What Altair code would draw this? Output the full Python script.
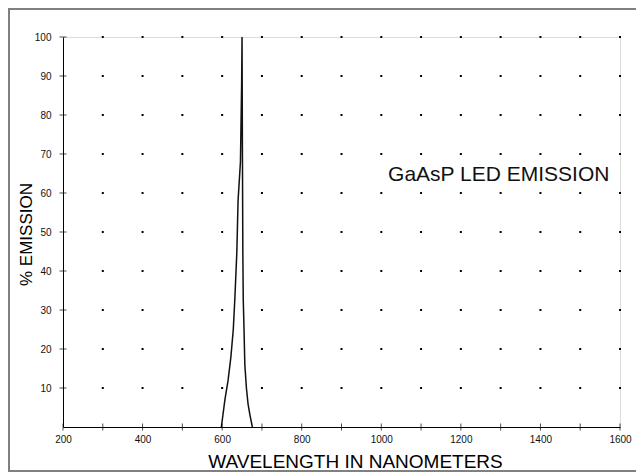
import altair as alt
import pandas as pd

# Emission curve (wavelength nm, % emission)
wavelength = [598, 607, 615, 622, 628, 632, 637, 640, 646, 649, 650,
              651, 652, 653, 655, 657, 661, 665, 670, 676]
emission = [0, 7, 12, 18, 25, 33, 45, 58, 68, 88, 100,
            70, 45, 33, 25, 16, 10, 6, 3, 0]

x_ticks = [200, 300, 400, 500, 600, 700, 800, 900, 1000, 1100, 1200, 1300, 1400, 1500, 1600]
y_ticks = [10, 20, 30, 40, 50, 60, 70, 80, 90, 100]
label_text = ["GaAsP LED EMISSION"]
label_x = [1017]
label_y = [64.6]

FONT = "Liberation Sans"
W, H = 557, 390
PB = 46

curve = pd.DataFrame({"wl": wavelength, "em": emission, "i": range(len(wavelength))})
grid = pd.DataFrame([(x, y) for x in x_ticks[1:] for y in y_ticks], columns=["x", "y"])
xt = pd.DataFrame({"x": x_ticks, "y": [0] * len(x_ticks)})
yt = pd.DataFrame({"x": [200] * len(y_ticks), "y": y_ticks})
lab = pd.DataFrame({"t": label_text, "x": label_x, "y": label_y})

xs = alt.Scale(domain=[200, 1600], nice=False, zero=False)
ys = alt.Scale(domain=[0, 100], nice=False)

xax = alt.Axis(values=x_ticks, format="d", ticks=False, grid=False, labelFont=FONT, labelFontSize=10,
               labelColor="#111", labelPadding=7, domainColor="#000", domainWidth=1,
               title="WAVELENGTH IN NANOMETERS", titleFont=FONT, titleFontSize=19,
               titleFontWeight="normal", titleColor="#000", titleX=292, titleY=40,
               titleAlign="center", titleBaseline="alphabetic", labelFlush=False)
yax = alt.Axis(values=y_ticks, ticks=False, grid=False, labelFont=FONT, labelFontSize=10,
               labelColor="#111", labelPadding=12, domainColor="#000", domainWidth=1,
               title="% EMISSION", titleFont=FONT, titleFontSize=17, titleFontWeight="normal",
               titleColor="#000", titleX=-37, titleY=197, titleAngle=270,
               titleAlign="center", titleBaseline="middle")

base_x = alt.X("x:Q", scale=xs, axis=xax)
base_y = alt.Y("y:Q", scale=ys, axis=yax)

dots = alt.Chart(grid).mark_square(size=4, color="#000", opacity=1).encode(x=base_x, y=base_y)

line = alt.Chart(curve).mark_line(color="#111", strokeWidth=1.5).encode(
    x=alt.X("wl:Q", scale=xs), y=alt.Y("em:Q", scale=ys), order="i:Q")

xtick = alt.Chart(xt).mark_tick(orient="vertical", size=7, thickness=1, color="#000").encode(
    x=alt.X("x:Q", scale=xs), y=alt.Y("y:Q", scale=ys))
ytick = alt.Chart(yt).mark_tick(orient="horizontal", size=7, thickness=1, color="#000").encode(
    x=alt.X("x:Q", scale=xs), y=alt.Y("y:Q", scale=ys))

text = alt.Chart(lab).mark_text(font=FONT, fontSize=21, align="left", baseline="middle",
                                color="#111").encode(
    x=alt.X("x:Q", scale=xs), y=alt.Y("y:Q", scale=ys), text="t:N")

one = pd.DataFrame({"a": [0]})
frame_style = dict(color="#808080", strokeWidth=2)
f_left = alt.Chart(one).mark_rule(**frame_style).encode(
    x=alt.value(-54), y=alt.value(-28), y2=alt.value(H + PB - 2))
f_top = alt.Chart(one).mark_rule(**frame_style).encode(
    x=alt.value(-55), x2=alt.value(W + 16), y=alt.value(-28))
f_bot = alt.Chart(one).mark_rule(**frame_style).encode(
    x=alt.value(-55), x2=alt.value(W + 16), y=alt.value(H + PB - 2))

chart = alt.layer(f_left, f_top, f_bot, dots, line, xtick, ytick, text).properties(
    width=W, height=H, padding={"left": 55, "top": 29, "right": 16, "bottom": PB},
    autosize=alt.AutoSizeParams(type="none")
).configure_view(stroke=None).configure(background="white")

chart.save("out.html", embed_options={"renderer": "svg", "actions": False})
